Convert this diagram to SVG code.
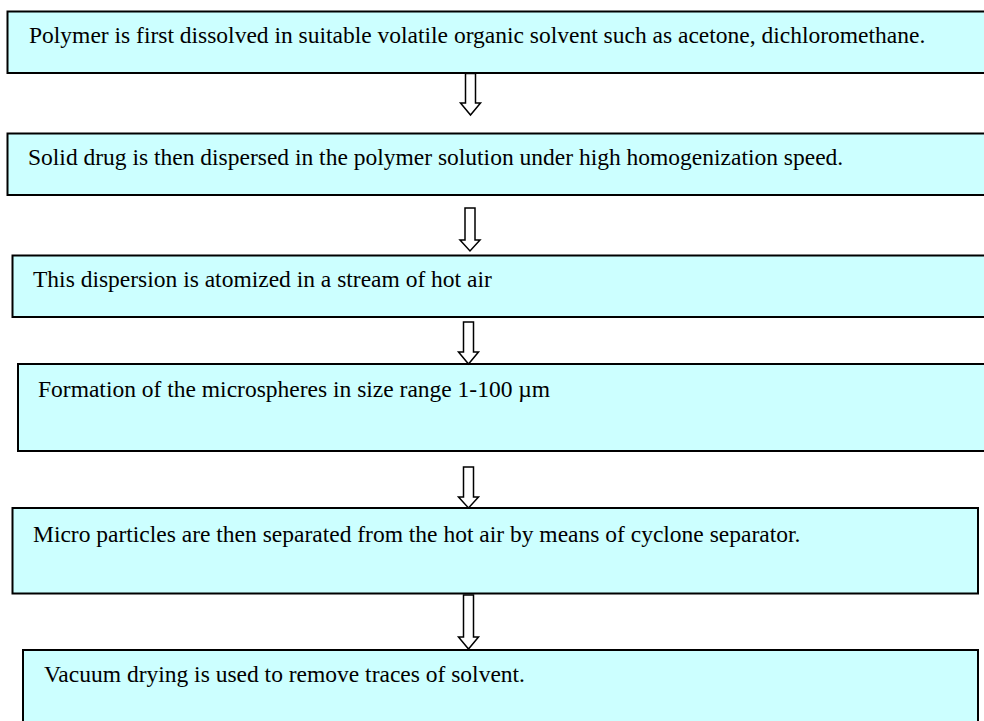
<svg xmlns="http://www.w3.org/2000/svg" width="984" height="721" viewBox="0 0 984 721">
<style>
.box{fill:#CCFFFF;stroke:#000;stroke-width:2}
.lbl{font-family:"Liberation Serif","Times New Roman",serif;font-size:23.5px;fill:#000}
.arr{fill:#fff;stroke:#000;stroke-width:1.5;stroke-linejoin:miter}
</style>
<rect width="984" height="721" fill="#fff"/>
<g id="n1"><rect class="box" x="7.5" y="11.5" width="990" height="61.5"/><text class="lbl" x="29" y="43">Polymer is first dissolved in suitable volatile organic solvent such as acetone, dichloromethane.</text></g>
<g id="n2"><rect class="box" x="7.5" y="133.5" width="990" height="61.5"/><text class="lbl" x="28" y="165">Solid drug is then dispersed in the polymer solution under high homogenization speed.</text></g>
<g id="n3"><rect class="box" x="12.5" y="255.5" width="985" height="61.5"/><text class="lbl" x="33" y="287">This dispersion is atomized in a stream of hot air</text></g>
<g id="n4"><rect class="box" x="18" y="364" width="980" height="87"/><text class="lbl" x="38" y="397">Formation of the microspheres in size range 1-100 µm</text></g>
<g id="n5"><rect class="box" x="12.5" y="508" width="965.5" height="85.5"/><text class="lbl" x="33" y="542">Micro particles are then separated from the hot air by means of cyclone separator.</text></g>
<g id="n6"><rect class="box" x="23" y="650" width="955" height="90"/><text class="lbl" x="44" y="682">Vacuum drying is used to remove traces of solvent.</text></g>
<g id="connectors">
<path class="arr" d="M465.5,73.5 V103 H460.5 L470.5,115 L480.5,103 H475.5 V73.5 Z"/>
<path class="arr" d="M465,208 V240 H460 L470,251 L480,240 H475 V208 Z"/>
<path class="arr" d="M463.5,322 V352 H458.5 L468.5,364 L478.5,352 H473.5 V322 Z"/>
<path class="arr" d="M463.5,467 V497 H458.5 L468.5,508 L478.5,497 H473.5 V467 Z"/>
<path class="arr" d="M463.5,595 V637 H458.5 L468.5,649 L478.5,637 H473.5 V595 Z"/>
</g>
</svg>
